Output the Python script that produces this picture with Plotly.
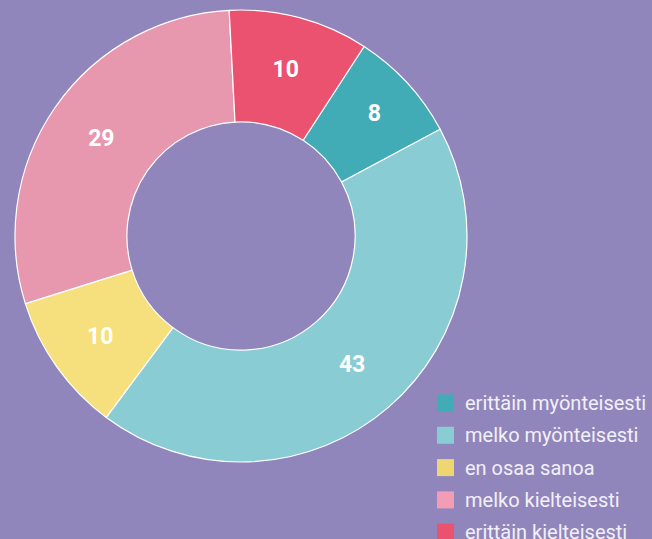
import plotly.graph_objects as go

labels = ["erittäin myönteisesti", "melko myönteisesti", "en osaa sanoa",
          "melko kielteisesti", "erittäin kielteisesti"]
values = [8, 43, 10, 29, 10]
slice_colors = ["#41ACB5", "#89CCD3", "#F6E07D", "#E797AE", "#EA526F"]
legend_colors = ["#41ACB5", "#89CCD3", "#EED672", "#F29DB3", "#EA526F"]

W, H = 652, 539
bg = "#9186BC"

cx, cy, R = 241, 236, 226

fig = go.Figure(go.Pie(
    labels=labels,
    values=values,
    sort=False,
    direction="clockwise",
    rotation=33,
    hole=0.505,
    marker=dict(colors=slice_colors, line=dict(color="white", width=1.2)),
    textinfo="value",
    textposition="inside",
    insidetextorientation="horizontal",
    textfont=dict(family="Roboto", size=23, color="white", weight="bold"),
    showlegend=False,
    domain=dict(x=[(cx - R) / W, (cx + R) / W],
                y=[(H - cy - R) / H, (H - cy + R) / H]),
    hoverinfo="label+value",
))

shapes = []
annotations = []
x0 = 437
sw = 17
y_start = 403
gap = 32.3
for i, (lab, col) in enumerate(zip(labels, legend_colors)):
    yc = y_start + i * gap
    shapes.append(dict(type="rect", xref="paper", yref="paper",
                       x0=x0 / W, x1=(x0 + sw) / W,
                       y0=1 - (yc + sw / 2) / H, y1=1 - (yc - sw / 2) / H,
                       fillcolor=col, line=dict(width=0)))
    annotations.append(dict(text=lab, xref="paper", yref="paper",
                            x=(x0 + sw + 9) / W, y=1 - yc / H,
                            xanchor="left", yanchor="middle", showarrow=False,
                            font=dict(family="Roboto", size=20, color="#F2F0F7")))

fig.update_layout(
    width=W, height=H,
    margin=dict(l=0, r=0, t=0, b=0),
    paper_bgcolor=bg, plot_bgcolor=bg,
    shapes=shapes, annotations=annotations,
)

fig.write_html("out.html", config={"displayModeBar": False},
               post_script="document.body.style.margin='0';document.body.style.overflow='hidden';")
